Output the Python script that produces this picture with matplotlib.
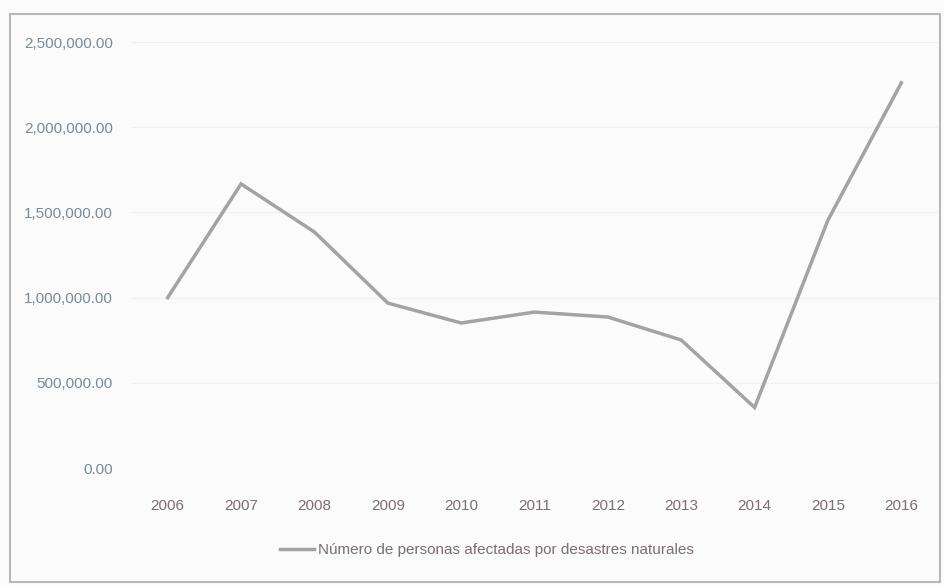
import matplotlib

matplotlib.use("Agg")
import matplotlib.pyplot as plt
from matplotlib.patches import Rectangle
from matplotlib.ticker import FuncFormatter

# data
years = ["2006", "2007", "2008", "2009", "2010", "2011",
         "2012", "2013", "2014", "2015", "2016"]
afectados = [1000000, 1667000, 1385000, 968000, 851000, 915000,
             886000, 751000, 355000, 1455000, 2260000]
y_ticks = [0, 500000, 1000000, 1500000, 2000000, 2500000]
label = "Número de personas afectadas por desastres naturales"

plt.rcParams["font.family"] = ["Liberation Sans", "DejaVu Sans"]

fig = plt.figure(figsize=(9.45, 5.85), dpi=100, facecolor="#fbfbfb")
ax = fig.add_axes([131 / 945, 1 - 468 / 585, (938 - 131) / 945, (468 - 42) / 585])
ax.set_facecolor("#fbfbfb")

x = list(range(len(years)))
ax.plot(x, afectados, color="#a3a3a3", lw=2.5, solid_joinstyle="miter", label=label)

ax.set_xlim(-0.5, len(years) - 0.5)
ax.set_ylim(0, 2500000)
ax.set_xticks(x)
ax.set_xticklabels(years)
ax.set_yticks(y_ticks)
ax.yaxis.set_major_formatter(FuncFormatter(lambda v, _: f"{v:,.2f}"))
ax.grid(axis="y", color="#f1f1f1", lw=1)
ax.set_axisbelow(True)
for s in ax.spines.values():
    s.set_visible(False)
ax.tick_params(length=0)
ax.tick_params(axis="y", colors="#7b8a98", labelsize=11, pad=13)
ax.tick_params(axis="x", colors="#7d6e70", labelsize=11, pad=22)

# outer chart border
fig.patches.append(Rectangle((10 / 945, 0.005), 930 / 945, 1 - 14 / 585 - 0.005,
                             transform=fig.transFigure, fill=False,
                             edgecolor="#b8b8b8", lw=1.5))

fig.legend(loc="center", bbox_to_anchor=(487 / 945, 1 - 550 / 585), frameon=False,
           fontsize=11, labelcolor="#7d6e70", handlelength=2.2, handletextpad=0.3)

fig.savefig("out.png", dpi=100, facecolor=fig.get_facecolor())
